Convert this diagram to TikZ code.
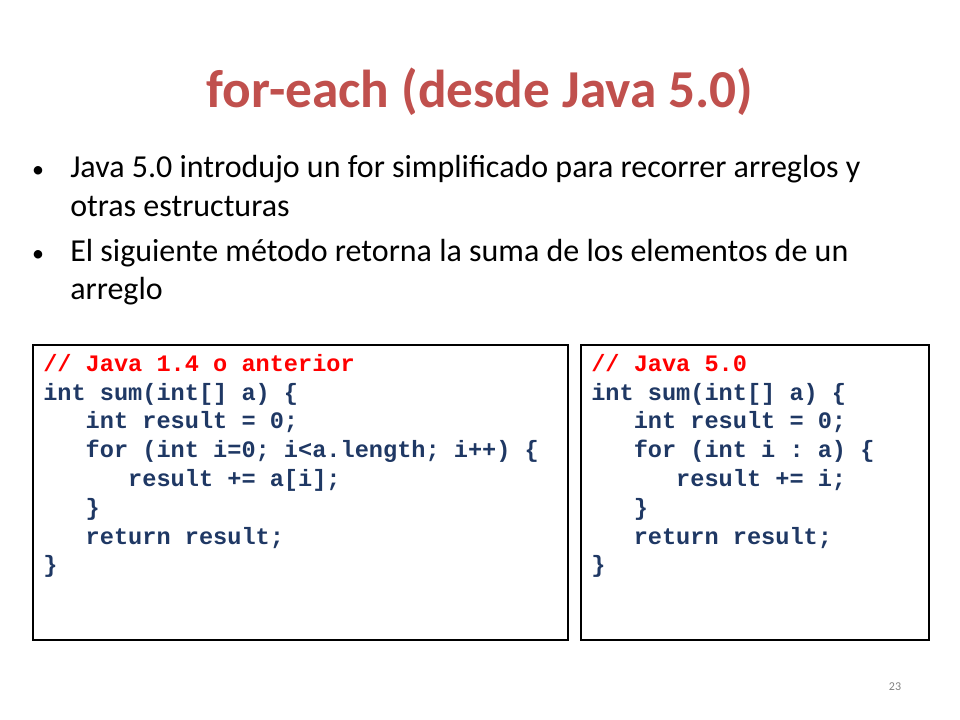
\documentclass[tikz,border=0pt]{standalone}
\usepackage{fontspec}
\setmainfont{Carlito}
\setmonofont{Liberation Mono}
\usepackage{xcolor}
\usetikzlibrary{positioning}
\definecolor{titlered}{RGB}{192,80,77}
\definecolor{codered}{RGB}{255,0,0}
\definecolor{codeblue}{RGB}{31,56,100}
\newcommand{\ind}{\hspace*{1.8em}}

\begin{document}
\begin{tikzpicture}[x=0.75pt, y=-0.75pt]
		\tikzstyle{bullettext} = [anchor=base west, inner sep=0pt, font=\fontsize{24}{28}\selectfont]
		\tikzstyle{bulletdot} = [anchor=base, inner sep=0pt, font=\fontsize{18}{24}\selectfont]
		\tikzstyle{codebox} = [draw=black, line width=0.8pt]
		\tikzstyle{code} = [anchor=north west, inner sep=0pt, align=left, text=codeblue, font=\ttfamily\bfseries\fontsize{17.7}{21.6}\selectfont]
		
		\useasboundingbox (0,0) rectangle (960,720);
		
		\node[font=\bfseries\fontsize{40}{48}\selectfont, text=titlered] at (480,92) (title) {for-each (desde Java 5.0)};
		
		\node[bulletdot]	at (38,178)	(b1)	{•};
		\node[bullettext]	at (70,178)	(t1)	{Java 5.0 introdujo un for simplificado para recorrer arreglos y};
		\node[bullettext]	at (70,217)	(t1b)	{otras estructuras};
		\node[bulletdot]	at (38,262)	(b2)	{•};
		\node[bullettext]	at (70,262)	(t2)	{El siguiente método retorna la suma de los elementos de un};
		\node[bullettext]	at (70,300)	(t2b)	{arreglo};
		
		\draw[codebox] (33,345) rectangle (568,640);
		\draw[codebox] (581,345) rectangle (929,640);
		
		\node[code] at (43,354) (oldcode) {%
			\textcolor{codered}{// Java 1.4 o anterior}\\
			int sum(int[] a) \{\\
			\ind int result = 0;\\
			\ind for (int i=0; i<a.length; i++) \{\\
			\ind\ind result += a[i];\\
			\ind \}\\
			\ind return result;\\
			\}};
		
		\node[code] at (591,354) (newcode) {%
			\textcolor{codered}{// Java 5.0}\\
			int sum(int[] a) \{\\
			\ind int result = 0;\\
			\ind for (int i : a) \{\\
			\ind\ind result += i;\\
			\ind \}\\
			\ind return result;\\
			\}};
		
		\node[text=gray, font=\fontsize{9}{11}\selectfont] at (895,687) (page) {23};
		
	\end{tikzpicture}
\end{document}
